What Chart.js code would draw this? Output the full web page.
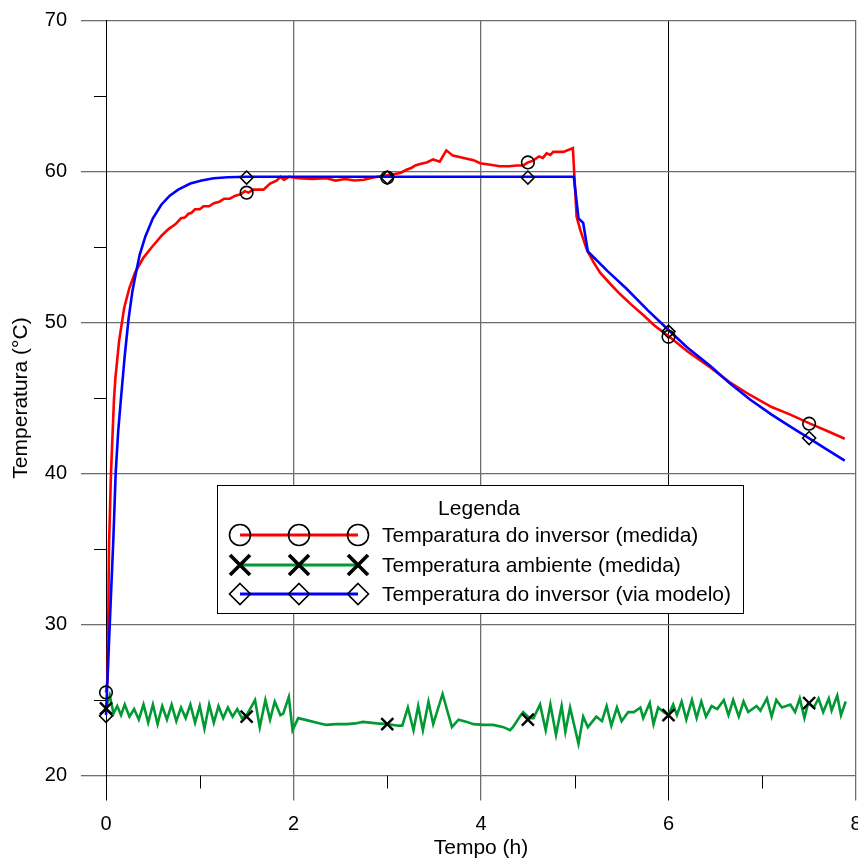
<!DOCTYPE html>
<html>
<head>
<meta charset="utf-8">
<title>Temperatura do inversor</title>
<script src="https://cdn.jsdelivr.net/npm/chart.js@4/dist/chart.umd.min.js"></script>
<style>
  html, body { margin: 0; padding: 0; background: #fff; overflow: hidden; }
  #wrap { position: relative; width: 858px; height: 859px; }
</style>
</head>
<body>
<div id="wrap"><canvas id="chart"></canvas></div>
<script>
// Inverter temperature (measured), ambient temperature (measured) and model output, vs time in hours
const measuredTime = [0, 0.018, 0.032, 0.053, 0.085, 0.10, 0.14, 0.195, 0.25, 0.31, 0.40, 0.49, 0.60, 0.67, 0.74, 0.80, 0.84, 0.88, 0.91, 0.95, 1.00, 1.04, 1.10, 1.15, 1.21, 1.26, 1.32, 1.38, 1.44, 1.48, 1.52, 1.57, 1.68, 1.75, 1.82, 1.86, 1.90, 1.95, 2.05, 2.20, 2.35, 2.45, 2.55, 2.65, 2.75, 2.85, 2.95, 3.05, 3.14, 3.20, 3.26, 3.30, 3.35, 3.42, 3.49, 3.56, 3.63, 3.70, 3.78, 3.85, 3.92, 3.99, 4.10, 4.20, 4.30, 4.38, 4.45, 4.50, 4.55, 4.62, 4.66, 4.70, 4.74, 4.77, 4.88, 4.98, 5.02, 5.06, 5.13, 5.20, 5.27, 5.38, 5.48, 5.60, 5.73, 5.85, 6.00, 6.20, 6.45, 6.65, 6.87, 7.10, 7.30, 7.51, 7.70, 7.88];
const measuredTemp = [25.5, 26.5, 35.2, 40.0, 44.9, 46.3, 48.8, 51.0, 52.3, 53.3, 54.3, 55.0, 55.8, 56.2, 56.5, 56.9, 56.95, 57.2, 57.25, 57.5, 57.5, 57.7, 57.7, 57.9, 58.0, 58.2, 58.2, 58.4, 58.5, 58.7, 58.6, 58.8, 58.8, 59.2, 59.4, 59.65, 59.45, 59.65, 59.55, 59.5, 59.55, 59.4, 59.5, 59.4, 59.45, 59.6, 59.7, 59.8, 59.9, 60.1, 60.25, 60.4, 60.5, 60.6, 60.8, 60.65, 61.4, 61.05, 60.95, 60.85, 60.75, 60.55, 60.45, 60.35, 60.35, 60.4, 60.4, 60.6, 60.7, 61.0, 60.9, 61.2, 61.1, 61.3, 61.3, 61.55, 57.0, 56.1, 54.8, 54.0, 53.3, 52.55, 51.9, 51.2, 50.5, 49.8, 49.1, 48.1, 47.0, 46.05, 45.2, 44.4, 43.9, 43.3, 42.8, 42.3];

const ambientTime = [0.00, 0.04, 0.08, 0.12, 0.16, 0.20, 0.25, 0.30, 0.35, 0.40, 0.45, 0.50, 0.55, 0.60, 0.65, 0.70, 0.75, 0.80, 0.85, 0.90, 0.95, 1.00, 1.05, 1.10, 1.15, 1.20, 1.25, 1.30, 1.35, 1.40, 1.45, 1.50, 1.59, 1.64, 1.70, 1.75, 1.80, 1.86, 1.89, 1.95, 1.99, 2.05, 2.15, 2.25, 2.35, 2.45, 2.57, 2.66, 2.74, 2.89, 3.00, 3.12, 3.16, 3.22, 3.28, 3.33, 3.38, 3.44, 3.49, 3.59, 3.69, 3.76, 3.85, 3.92, 4.03, 4.13, 4.24, 4.31, 4.34, 4.42, 4.45, 4.52, 4.56, 4.63, 4.69, 4.74, 4.80, 4.86, 4.90, 4.95, 5.04, 5.09, 5.14, 5.23, 5.29, 5.34, 5.39, 5.45, 5.50, 5.57, 5.63, 5.70, 5.73, 5.80, 5.84, 5.89, 5.95, 6.00, 6.05, 6.09, 6.14, 6.19, 6.25, 6.30, 6.35, 6.40, 6.46, 6.52, 6.59, 6.64, 6.69, 6.75, 6.80, 6.85, 6.94, 6.98, 7.05, 7.10, 7.15, 7.21, 7.30, 7.35, 7.40, 7.45, 7.49, 7.55, 7.60, 7.65, 7.71, 7.74, 7.80, 7.84, 7.89];
const ambientTemp = [24.5, 25.3, 24.1, 24.6, 24.0, 24.7, 23.9, 24.4, 23.7, 24.7, 23.5, 24.7, 23.4, 24.6, 23.7, 24.7, 23.6, 24.5, 23.8, 24.7, 23.5, 24.6, 23.1, 24.7, 23.5, 24.6, 23.8, 24.5, 23.9, 24.4, 23.8, 24.0, 25.0, 23.2, 25.0, 23.7, 24.9, 24.0, 24.1, 25.2, 23.0, 23.8, 23.65, 23.5, 23.35, 23.4, 23.4, 23.45, 23.55, 23.45, 23.4, 23.3, 23.3, 24.5, 23.0, 24.6, 23.0, 24.9, 23.4, 25.4, 23.2, 23.7, 23.55, 23.4, 23.35, 23.35, 23.2, 23.0, 23.2, 23.95, 24.2, 23.8, 23.8, 24.7, 23.0, 24.7, 22.7, 24.6, 22.9, 24.5, 22.1, 23.9, 23.2, 23.9, 23.6, 24.6, 23.3, 24.5, 23.6, 24.2, 24.2, 24.5, 23.8, 24.8, 23.4, 24.5, 24.2, 24.0, 24.7, 24.0, 24.9, 23.7, 25.0, 23.8, 24.9, 23.9, 24.6, 24.4, 25.0, 24.0, 25.0, 23.9, 24.9, 24.2, 24.6, 24.3, 25.1, 23.9, 25.0, 24.5, 24.7, 24.2, 25.1, 23.8, 24.8, 24.5, 25.1, 24.2, 25.1, 24.3, 25.3, 24.0, 24.9];

const modelTime = [0, 0.02, 0.05, 0.078, 0.103, 0.13, 0.16, 0.20, 0.24, 0.28, 0.31, 0.36, 0.42, 0.50, 0.59, 0.68, 0.77, 0.90, 1.02, 1.15, 1.30, 1.50, 4.99, 5.04, 5.09, 5.14, 5.35, 5.55, 5.78, 6.00, 6.20, 6.45, 6.65, 6.87, 7.10, 7.30, 7.51, 7.70, 7.88];
const modelTemp = [24.0, 27.0, 31.5, 35.6, 40.0, 42.8, 45.0, 47.8, 50.2, 52.0, 53.0, 54.5, 55.7, 56.9, 57.8, 58.4, 58.8, 59.2, 59.4, 59.55, 59.62, 59.65, 59.65, 56.9, 56.6, 54.7, 53.4, 52.25, 50.8, 49.5, 48.35, 47.1, 46.0, 44.9, 43.9, 43.1, 42.3, 41.55, 40.85];

// Symbols placed every 1.5 h along each curve
const markerTime = [0, 1.5, 3, 4.5, 6, 7.5];
const measuredMarks = [25.5, 58.6, 59.6, 60.6, 49.05, 43.3];
const ambientMarks = [24.45, 23.9, 23.4, 23.7, 24.0, 24.8];
const modelMarks = [23.95, 59.6, 59.6, 59.6, 49.4, 42.35];

const xTicks = [0, 2, 4, 6, 8];
const xMinor = [1, 3, 5, 7];
const yTicks = [20, 30, 40, 50, 60, 70];
const yMinor = [25, 35, 45, 55, 65];

const legendTitle = 'Legenda';
const seriesNames = ['Temparatura do inversor (medida)', 'Temperatura ambiente (medida)', 'Temperatura do inversor (via modelo)'];
const seriesColors = ['#ff0000', '#009933', '#0000ff'];
const seriesSymbols = ['circle', 'cross', 'diamond'];

const FONT = '"Liberation Sans", Arial, Helvetica, sans-serif';
Chart.defaults.font.family = FONT;
Chart.defaults.color = '#000';

const pts = (xs, ys) => xs.map((x, i) => ({ x: x, y: ys[i] }));

function lineSet(label, xs, ys, color, order) {
  return {
    label, data: pts(xs, ys), showLine: true, borderColor: color, backgroundColor: color,
    borderWidth: 2.6, pointRadius: 0, tension: 0, order, clip: false
  };
}
function markSet(label, ys, style, radius, width, order) {
  return {
    label, data: pts(markerTime, ys), showLine: false, pointStyle: style, pointRadius: radius,
    pointBorderColor: '#000', pointBackgroundColor: 'rgba(0,0,0,0)', pointBorderWidth: width,
    order, clip: false
  };
}

// Keep the plot frame fixed: no extra room reserved for overhanging tick labels
const NO_PAD = { left: 0, top: 0, right: 0, bottom: 0 };
function fixScale(s, size) {
  if (s.isHorizontal()) s.height = size; else s.width = size;
  s.paddingLeft = s.paddingRight = s.paddingTop = s.paddingBottom = 0;
  s.getPadding = () => NO_PAD;
}

// Minor tick marks on both axes
const minorTicks = {
  id: 'minorTicks',
  beforeDatasetsDraw(chart) {
    const { ctx, chartArea, scales } = chart;
    ctx.save();
    ctx.strokeStyle = '#000';
    ctx.lineWidth = 1;
    yMinor.forEach(v => {
      const py = Math.round(scales.y.getPixelForValue(v)) + 0.5;
      ctx.beginPath(); ctx.moveTo(chartArea.left - 12, py); ctx.lineTo(chartArea.left, py); ctx.stroke();
    });
    xMinor.forEach(v => {
      const px = Math.round(scales.x.getPixelForValue(v)) + 0.5;
      ctx.beginPath(); ctx.moveTo(px, chartArea.bottom); ctx.lineTo(px, chartArea.bottom + 13); ctx.stroke();
    });
    ctx.restore();
  }
};

function drawSymbol(ctx, kind, x, y, r) {
  ctx.beginPath();
  if (kind === 'circle') {
    ctx.lineWidth = 1.6;
    ctx.arc(x, y, r, 0, Math.PI * 2);
  } else if (kind === 'cross') {
    ctx.lineWidth = 3.6;
    ctx.moveTo(x - r, y - r); ctx.lineTo(x + r, y + r);
    ctx.moveTo(x - r, y + r); ctx.lineTo(x + r, y - r);
  } else {
    ctx.lineWidth = 1.6;
    ctx.moveTo(x, y - r); ctx.lineTo(x + r, y); ctx.lineTo(x, y + r); ctx.lineTo(x - r, y); ctx.closePath();
  }
  ctx.strokeStyle = '#000';
  ctx.stroke();
}

// Boxed legend inside the plot area
const boxLegend = {
  id: 'boxLegend',
  afterDatasetsDraw(chart) {
    const ctx = chart.ctx;
    const bx = 217.5, by = 485.5, bw = 526, bh = 128;
    ctx.save();
    ctx.fillStyle = '#fff';
    ctx.fillRect(bx, by, bw, bh);
    ctx.strokeStyle = '#000';
    ctx.lineWidth = 1;
    ctx.strokeRect(bx, by, bw, bh);
    ctx.fillStyle = '#000';
    ctx.font = '21px ' + FONT;
    ctx.textBaseline = 'middle';
    ctx.textAlign = 'center';
    ctx.fillText(legendTitle, 479, 509);
    const rows = [535, 565, 594];
    const xs = [240, 299, 358];
    seriesNames.forEach((name, i) => {
      const ry = rows[i];
      ctx.strokeStyle = seriesColors[i];
      ctx.lineWidth = 3;
      ctx.beginPath(); ctx.moveTo(xs[0], ry); ctx.lineTo(xs[2], ry); ctx.stroke();
      const r = seriesSymbols[i] === 'cross' ? 10 : 10.5;
      xs.forEach(sx => drawSymbol(ctx, seriesSymbols[i], sx, ry, r));
      ctx.fillStyle = '#000';
      ctx.textAlign = 'left';
      ctx.fillText(name, 382, ry + 1);
    });
    ctx.restore();
  }
};

const isBlackX = v => v === 0 || v === 6;

new Chart(document.getElementById('chart'), {
  type: 'scatter',
  data: {
    datasets: [
      markSet('measured marks', measuredMarks, 'circle', 6.3, 1.6, 0),
      markSet('ambient marks', ambientMarks, 'crossRot', 8.5, 2.4, 0),
      markSet('model marks', modelMarks, 'rectRot', 6.5, 1.6, 0),
      lineSet(seriesNames[2], modelTime, modelTemp, seriesColors[2], 1),
      lineSet(seriesNames[1], ambientTime, ambientTemp, seriesColors[1], 2),
      lineSet(seriesNames[0], measuredTime, measuredTemp, seriesColors[0], 3)
    ]
  },
  options: {
    responsive: true,
    maintainAspectRatio: false,
    animation: false,
    events: [],
    layout: { autoPadding: false, padding: { top: 20.5, right: 2, bottom: 0, left: 0 } },
    plugins: { legend: { display: false }, tooltip: { enabled: false } },
    scales: {
      x: {
        type: 'linear', min: 0, max: 8,
        afterBuildTicks: s => { s.ticks = xTicks.map(v => ({ value: v })); },
        afterFit: s => fixScale(s, 83.5),
        ticks: { color: '#000', font: { size: 20 }, padding: 12, maxRotation: 0, autoSkip: false },
        grid: {
          color: c => (c.tick && isBlackX(c.tick.value)) ? '#000' : '#6e6e6e',
          lineWidth: c => (c.tick && isBlackX(c.tick.value)) ? 1 : 1.3,
          tickLength: 25
        },
        border: { display: false },
        title: { display: true, text: 'Tempo (h)', color: '#000', font: { size: 21, lineHeight: 1 }, padding: { top: 0, bottom: 0 } }
      },
      y: {
        type: 'linear', min: 20, max: 70,
        afterBuildTicks: s => { s.ticks = yTicks.map(v => ({ value: v })); },
        afterFit: s => fixScale(s, 106),
        ticks: { color: '#000', font: { size: 20 }, padding: 14 },
        grid: { color: '#6e6e6e', lineWidth: 1.3, tickLength: 25 },
        border: { display: true, color: '#000', width: 1 },
        title: { display: true, text: 'Temperatura (°C)', color: '#000', font: { size: 21, lineHeight: 1 }, padding: { top: 10.5, bottom: 0 } }
      }
    }
  },
  plugins: [minorTicks, boxLegend]
});
</script>
</body>
</html>
